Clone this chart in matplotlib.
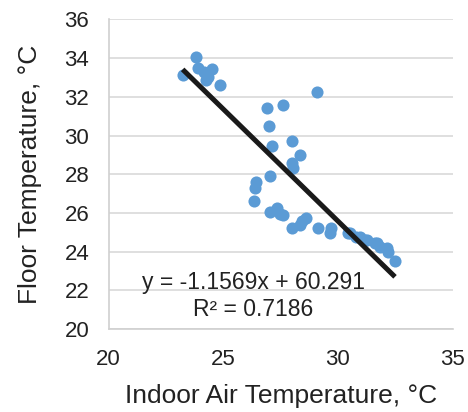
import numpy as np
import matplotlib.pyplot as plt

plt.rcParams['font.family'] = ['Liberation Sans', 'DejaVu Sans']

# indoor air temperature vs floor temperature (°C)
air_temp = [23.23, 23.81, 23.91, 24.16, 24.27, 24.35, 24.49, 24.85,
            29.11, 26.89, 27.59, 26.99, 28.02, 27.14, 28.34, 28.01, 28.05,
            27.03, 26.45, 26.38, 26.35,
            27.03, 27.33, 27.47, 27.62, 27.98, 28.34, 28.43, 28.63,
            29.14, 29.65, 29.72, 30.45, 30.52, 30.81, 30.96, 31.18, 31.26,
            31.61, 31.70, 31.83, 32.14, 32.20, 32.49]
floor_temp = [33.13, 34.04, 33.47, 33.30, 32.87, 33.00, 33.42, 32.61,
              32.25, 31.40, 31.58, 30.51, 29.73, 29.47, 29.00, 28.57, 28.30,
              27.91, 27.62, 27.27, 26.64,
              26.07, 26.24, 25.95, 25.90, 25.24, 25.38, 25.60, 25.73,
              25.21, 24.95, 25.21, 24.95, 24.97, 24.78, 24.76, 24.61, 24.60,
              24.43, 24.45, 24.26, 24.19, 24.00, 23.52]

slope = -1.1569
intercept = 60.291
r2 = 0.7186

fig = plt.figure(figsize=(4.68, 4.12), dpi=100)
ax = fig.add_axes([0.232, 0.201, 0.735, 0.752])

ax.scatter(air_temp, floor_temp, s=76, color='#5B9BD5', zorder=3, linewidths=0)

xs = np.array([min(air_temp), max(air_temp)])
ax.plot(xs, slope * xs + intercept, color='#1a1a1a', lw=3.6, zorder=4,
        solid_capstyle='butt')

ax.set_xlim(20, 35)
ax.set_ylim(20, 36)
ax.set_xticks([20, 25, 30, 35])
ax.set_yticks(range(20, 37, 2))
ax.yaxis.grid(True, color='#d9d9d9', lw=1.2)
ax.set_axisbelow(True)
for s in ['top', 'right']:
    ax.spines[s].set_visible(False)
for s in ['left', 'bottom']:
    ax.spines[s].set_color('#d0d0d0')
    ax.spines[s].set_linewidth(1.2)
ax.tick_params(length=0, labelsize=16, colors='#222222')
ax.tick_params(axis='x', pad=14)
ax.tick_params(axis='y', pad=14)

ax.set_xlabel('Indoor Air Temperature, °C', fontsize=19, color='#222222', labelpad=10)
ax.set_ylabel('Floor Temperature, °C', fontsize=19, color='#222222', labelpad=16)

ax.text(26.3, 22.4, f'y = {slope}x + {intercept}', fontsize=16.5, ha='center',
        va='center', color='#222222', zorder=5)
ax.text(26.3, 21.0, f'R² = {r2}', fontsize=16.5, ha='center', va='center',
        color='#222222', zorder=5)

fig.savefig('out.png', dpi=100)
